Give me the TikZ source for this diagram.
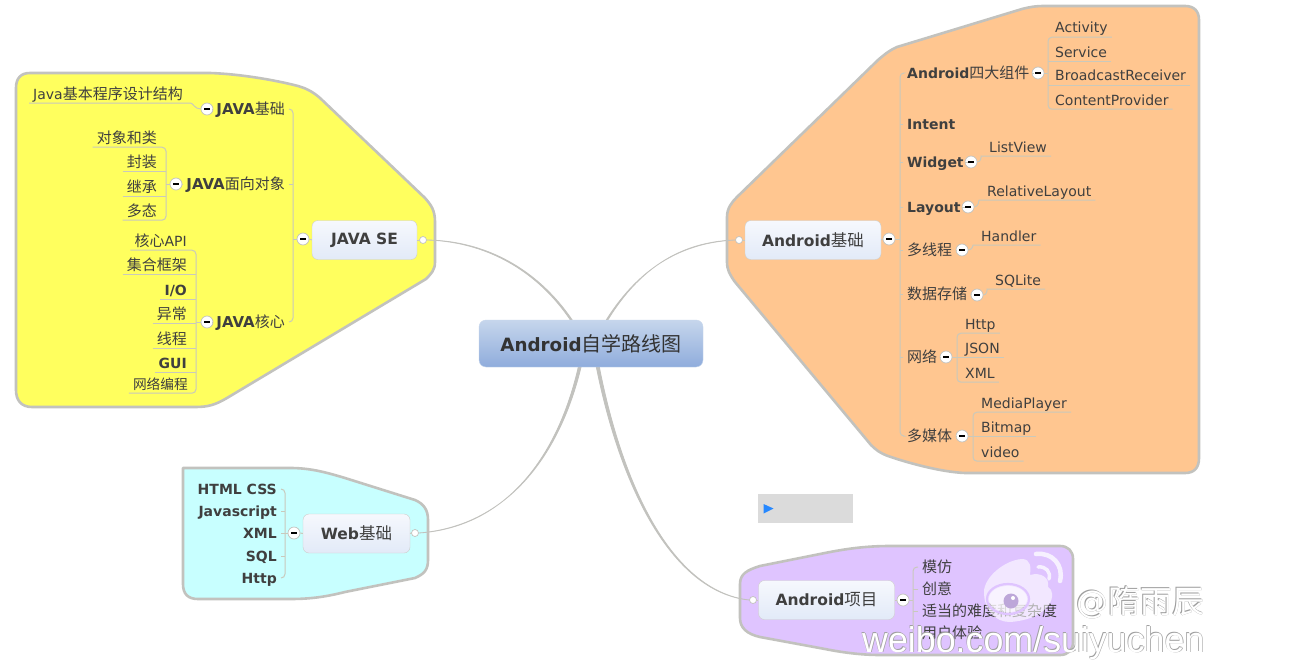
\documentclass[tikz,border=0pt]{standalone}
\usepackage{fontspec}
\usetikzlibrary{backgrounds,calc}
\setmainfont{DejaVu Sans}
\newfontfamily\cjk{Noto Sans CJK SC}
\newfontfamily\wmfont{Liberation Sans}
\newcommand{\zh}[1]{{\mdseries\cjk\fontsize{15}{17}\selectfont #1}}
\newcommand{\zhs}[1]{{\mdseries\cjk\fontsize{13.7}{16}\selectfont #1}}
\newcommand{\zhb}[1]{{\mdseries\cjk\fontsize{16.5}{19}\selectfont #1}}
\newcommand{\zhc}[1]{{\mdseries\cjk\fontsize{20}{22}\selectfont #1}}
\newcommand{\jv}{{\fontsize{15}{17}\selectfont JAVA}}
\definecolor{txt}{HTML}{3F3F3F}
\definecolor{rim}{HTML}{C2C2BE}
\definecolor{yel}{HTML}{FFFF5E}
\definecolor{ora}{HTML}{FFC690}
\definecolor{cya}{HTML}{C8FFFF}
\definecolor{pur}{HTML}{DFC4FF}
\definecolor{twig}{HTML}{C9C9BC}
\definecolor{BoxTop}{HTML}{C6D6EC}
\definecolor{BoxBot}{HTML}{8FACDC}
\definecolor{TopicTop}{HTML}{F6F8FD}
\definecolor{TopicBot}{HTML}{E2EAF8}
\tikzset{
  x=1pt,y=-1pt,
  blob/.style={draw=rim,line width=2.6pt,line join=round},
  branch/.style={fill=rim,draw=rim,line width=0.8pt},
  lab/.style={inner xsep=4pt,inner ysep=2pt,text height=12pt,text depth=2pt,text=txt,font=\fontsize{14}{16}\selectfont},
  blab/.style={lab,font=\fontsize{14}{16}\selectfont\bfseries},
  topic/.style={draw=rim!80!white,rounded corners=6pt,inner sep=0pt,minimum height=39pt,top color=TopicTop,bottom color=TopicBot,text=txt,font=\fontsize{15.5}{18}\selectfont\bfseries},
  central/.style={draw=BoxTop,rounded corners=7pt,inner sep=0pt,minimum width=224pt,minimum height=47pt,top color=BoxTop,bottom color=BoxBot,text=black!80,font=\fontsize{18.3}{20}\selectfont\bfseries},
  minus/.style={circle,draw=rim,fill=white,line width=0.7pt,inner sep=0pt,minimum size=12pt},
  openc/.style={circle,draw=rim,fill=white,line width=0.7pt,inner sep=0pt,minimum size=7pt},
  tw/.style={draw=twig,line width=1pt,rounded corners=4pt},
  wmw/.style={text=white,inner sep=0pt,anchor=base west},
  wms/.style={text=black!38,inner sep=0pt,anchor=base west},
}
\newcommand{\mn}{\rule{5.5pt}{1.4pt}}
\begin{document}
\begin{tikzpicture}
\useasboundingbox (0,0) rectangle (1300,661);

% ---------- central and its children
\node[central] (cen) at (591,343.5) {Android\zhc{自学路线图}};

% JAVA SE
\node[topic,minimum width=105pt] (java) at (364.5,240) {JAVA SE};
\node[openc] (oj) at (423,240) {};
\node[minus] (mj) at (303,239) {\mn};
\node[blab,anchor=east] (j1) at (289,109) {\jv\zh{基础}};
\node[blab,anchor=east] (j2) at (289,184) {\jv\zh{面向对象}};
\node[blab,anchor=east] (j3) at (289,322) {\jv\zh{核心}};
\coordinate (tj) at (293,200);
\node[minus] (m1) at (207,109) {\mn};
\node[minus] (m2) at (176,184) {\mn};
\node[minus] (m3) at (207,322) {\mn};
\node[lab,anchor=east] (a0) at (187,94) {Java\zh{基本程序设计结构}};
\coordinate (t2) at (166,184);
\node[lab,anchor=east] (b1) at (161,138) {\zh{对象和类}};
\node[lab,anchor=east] (b2) at (161,162) {\zh{封装}};
\node[lab,anchor=east] (b3) at (161,187) {\zh{继承}};
\node[lab,anchor=east] (b4) at (161,211) {\zh{多态}};
\coordinate (t3) at (196,322);
\node[lab,anchor=east] (c1) at (191,241) {\zh{核心}API};
\node[lab,anchor=east] (c2) at (191,265) {\zh{集合框架}};
\node[blab,anchor=east] (c3) at (191,290) {I/O};
\node[lab,anchor=east] (c4) at (191,314) {\zh{异常}};
\node[lab,anchor=east] (c5) at (191,339) {\zh{线程}};
\node[blab,anchor=east] (c6) at (191,363) {GUI};
\node[lab,anchor=east] (c7) at (192,384) {\zhs{网络编程}};

% Android basics
\node[topic,minimum width=136pt] (ab) at (813,240) {Android\zhb{基础}};
\node[openc] (oa) at (739,240) {};
\node[minus] (ma) at (889,239) {\mn};
\coordinate (ta) at (900,240);
\node[blab,anchor=west] (r1) at (903,73) {Android\zh{四大组件}};
\node[blab,anchor=west] (r2) at (903,124) {Intent};
\node[blab,anchor=west] (r3) at (903,162) {Widget};
\node[blab,anchor=west] (r4) at (903,207) {Layout};
\node[lab,anchor=west] (r5) at (903,250) {\zh{多线程}};
\node[lab,anchor=west] (r6) at (903,294) {\zh{数据存储}};
\node[lab,anchor=west] (r7) at (903,357) {\zh{网络}};
\node[lab,anchor=west] (r8) at (903,436) {\zh{多媒体}};
\node[minus] (n1) at (1038,73) {\mn};
\node[minus] (n3) at (971,162) {\mn};
\node[minus] (n4) at (968,207) {\mn};
\node[minus] (n5) at (962,250) {\mn};
\node[minus] (n6) at (977,295) {\mn};
\node[minus] (n7) at (946,357) {\mn};
\node[minus] (n8) at (962,436) {\mn};
\coordinate (t1r) at (1048,73);
\node[lab,anchor=west] (d1) at (1051,28) {Activity};
\node[lab,anchor=west] (d2) at (1051,52) {Service};
\node[lab,anchor=west] (d3) at (1051,76) {BroadcastReceiver};
\node[lab,anchor=west] (d4) at (1051,100) {ContentProvider};
\node[lab,anchor=west] (e3) at (985,147) {ListView};
\node[lab,anchor=west] (e4) at (983,191) {RelativeLayout};
\node[lab,anchor=west] (e5) at (977,236) {Handler};
\node[lab,anchor=west] (e6) at (991,280) {SQLite};
\coordinate (t7r) at (957,357);
\node[lab,anchor=west] (f1) at (961,324) {Http};
\node[lab,anchor=west] (f2) at (961,348) {JSON};
\node[lab,anchor=west] (f3) at (961,373) {XML};
\coordinate (t8r) at (973,436);
\node[lab,anchor=west] (g1) at (977,403) {MediaPlayer};
\node[lab,anchor=west] (g2) at (977,427) {Bitmap};
\node[lab,anchor=west] (g3) at (977,452) {video};

% Web
\node[topic,minimum width=107pt] (web) at (356.5,533.5) {Web\zhb{基础}};
\node[openc] (ow) at (415,533) {};
\node[minus] (mw) at (294,533) {\mn};
\coordinate (tw) at (285,533);
\node[blab,anchor=east] (w1) at (281,489) {HTML CSS};
\node[blab,anchor=east] (w2) at (281,511) {Javascript};
\node[blab,anchor=east] (w3) at (281,533) {XML};
\node[blab,anchor=east] (w4) at (281,556) {SQL};
\node[blab,anchor=east] (w5) at (281,578) {Http};

% Project
\node[topic,minimum width=136pt] (pr) at (826.5,600) {Android\zhb{项目}};
\node[openc] (op) at (753,600) {};
\node[minus] (mp) at (903,600) {\mn};
\coordinate (tp) at (913,600);
\node[lab,anchor=west] (p1) at (918,567) {\zh{模仿}};
\node[lab,anchor=west] (p2) at (918,589) {\zh{创意}};
\node[lab,anchor=west] (p3) at (918,611) {\zh{适当的难度和复杂度}};
\node[lab,anchor=west] (p4) at (918,633) {\zh{用户体验}};

% ---------- background: blobs and main branches
\begin{scope}[on background layer]
\fill[white] (0,0) rectangle (1300,661);
\draw[blob,fill=yel] (30,73) -- (210,73) .. controls (240,74) and (275,80) .. (298,86)
  .. controls (305,88) and (312,91) .. (320,98)
  -- (425,198) .. controls (431,205) and (435,210) .. (435,222)
  -- (435,262) .. controls (435,270) and (431,274) .. (426,279)
  -- (227,398) .. controls (215,405) and (208,407) .. (195,407)
  -- (32,407) .. controls (21,407) and (16,400) .. (16,390)
  -- (16,88) .. controls (16,78) and (21,73) .. (30,73) -- cycle;
\draw[blob,fill=ora] (1185,6) .. controls (1194,6) and (1199,11) .. (1199,20)
  -- (1199,458) .. controls (1199,468) and (1194,473) .. (1185,473)
  -- (965,473) .. controls (940,472) and (905,462) .. (888,456)
  .. controls (880,453) and (876,450) .. (871,445)
  -- (735,282) .. controls (730,275) and (727,270) .. (727,262)
  -- (727,217) .. controls (727,208) and (732,202) .. (737,197)
  -- (878,60) .. controls (885,54) and (890,50) .. (897,47)
  -- (1022,9) .. controls (1030,7) and (1035,6) .. (1045,6) -- cycle;
\draw[blob,fill=cya] (183,468) -- (290,468) .. controls (310,468) and (325,472) .. (345,478)
  -- (415,500) .. controls (424,504) and (428,510) .. (428,520)
  -- (428,560) .. controls (428,570) and (424,574) .. (415,578)
  -- (345,592) .. controls (325,597) and (310,599) .. (290,599)
  -- (198,599) .. controls (188,599) and (183,594) .. (183,584) -- cycle;
\draw[blob,fill=pur] (1060,546) .. controls (1068,546) and (1073,551) .. (1073,559)
  -- (1073,642) .. controls (1073,650) and (1068,655) .. (1060,655)
  -- (880,655) .. controls (860,655) and (840,652) .. (825,649)
  -- (760,637) .. controls (747,634) and (740,628) .. (740,618)
  -- (740,584) .. controls (740,574) and (747,570) .. (760,566)
  -- (825,553) .. controls (845,549) and (865,546) .. (890,546) -- cycle;
\fill[branch] (oj.east) .. controls (500,242) and (555,285) .. ([xshift=-7pt]cen.center)
  -- ([xshift=-5pt]cen.center) .. controls (556,284) and (500,241) .. (oj.east) -- cycle;
\fill[branch] (oa.west) .. controls (670,243) and (625,280) .. ([xshift=2pt]cen.center)
  -- ([xshift=4pt]cen.center) .. controls (626,280) and (670,242) .. (oa.west) -- cycle;
\fill[branch] (ow.east) .. controls (510,527) and (565,450) .. ([xshift=-8pt]cen.center)
  -- ([xshift=-5pt]cen.center) .. controls (567,450) and (510,526) .. (ow.east) -- cycle;
\fill[branch] (op.west) .. controls (670,592) and (615,480) .. ([xshift=1pt]cen.center)
  -- ([xshift=4pt]cen.center) .. controls (618,480) and (670,591) .. (op.west) -- cycle;
\end{scope}

% ---------- twigs
\draw[tw] (j1.east) -- (j1.east -| tj) -- (j3.east -| tj) -- (j3.east);
\draw[tw] (j2.east) -- (j2.east -| tj);
\draw[tw] (mj.west) -- (mj.west -| tj);
\draw[tw] (mj.east) -- (java.west);
\draw[tw] (oj.west) -- (java.east);
\draw[tw] (m1.east) -- (j1.west);
\draw[tw] (m2.east) -- (j2.west);
\draw[tw] (m3.east) -- (j3.west);
\draw[tw] (a0.south west) -- (a0.south east) to[out=0,in=180] (m1.west);
\draw[tw] (b1.south west) -- (b1.south east -| t2) -- (b4.south east -| t2) -- (b4.south west);
\foreach \k in {b2,b3} \draw[tw] (\k.south west) -- (\k.south east -| t2);
\draw[tw] (m2.west) -- (m2.west -| t2);
\draw[tw] (c1.south west) -- (c1.south east -| t3) -- (c7.south east -| t3) -- (c7.south west);
\foreach \k in {c2,c3,c4,c5,c6} \draw[tw] (\k.south west) -- (\k.south east -| t3);
\draw[tw] (m3.west) -- (m3.west -| t3);

\draw[tw] (ma.west) -- (ab.east);
\draw[tw] (oa.east) -- (ab.west);
\draw[tw] (ma.east) -- (ma.east -| ta);
\draw[tw] (r1.west) -- (r1.west -| ta) -- (r8.west -| ta) -- (r8.west);
\foreach \k in {r2,r3,r4,r5,r6,r7} \draw[tw] (\k.west) -- (\k.west -| ta);
\foreach \a/\b in {r1/n1,r3/n3,r4/n4,r5/n5,r6/n6,r7/n7,r8/n8} \draw[tw] (\a.east) -- (\b.west);
\draw[tw] (d1.south east) -- (d1.south east -| t1r) -- (d4.south east -| t1r) -- (d4.south east);
\foreach \k in {d2,d3} \draw[tw] (\k.south east) -- (\k.south east -| t1r);
\draw[tw] (n1.east) -- (n1.east -| t1r);
\foreach \a/\b in {e3/n3,e4/n4,e5/n5,e6/n6} \draw[tw] (\a.south east) -- (\a.south west) to[out=180,in=0] (\b.east);
\draw[tw] (f1.south east) -- (f1.south east -| t7r) -- (f3.south east -| t7r) -- (f3.south east);
\draw[tw] (f2.south east) -- (f2.south east -| t7r);
\draw[tw] (n7.east) -- (n7.east -| t7r);
\draw[tw] (g1.south east) -- (g1.south east -| t8r) -- (g3.south east -| t8r) -- (g3.south east);
\draw[tw] (g2.south east) -- (g2.south east -| t8r);
\draw[tw] (n8.east) -- (n8.east -| t8r);

\draw[tw] (mw.east) -- (web.west);
\draw[tw] (ow.west) -- (web.east);
\draw[tw] (mw.west) -- (mw.west -| tw);
\draw[tw] (w1.east) -- (w1.east -| tw) -- (w5.east -| tw) -- (w5.east);
\foreach \k in {w2,w3,w4} \draw[tw] (\k.east) -- (\k.east -| tw);

\draw[tw] (mp.west) -- (pr.east);
\draw[tw] (op.east) -- (pr.west);
\draw[tw] (mp.east) -- (mp.east -| tp);
\draw[tw] (p1.west) -- (p1.west -| tp) -- (p4.west -| tp);
\foreach \k in {p2,p3} \draw[tw] (\k.west) -- (\k.west -| tp);

% ---------- grey player box
\fill[black!14] (757.5,494) rectangle (853,523);
\fill[blue!55!cyan!85!white] (763.5,504) -- (773.5,508.5) -- (763.5,513.5) -- cycle;

% ---------- watermark
\fill[white,opacity=.6] (984,592) .. controls (984,577) and (1005,560) .. (1022,559)
  .. controls (1031,559) and (1031,568) .. (1030,575) .. controls (1040,572) and (1050,577) .. (1048,587)
  .. controls (1058,592) and (1052,619) .. (1010,622) .. controls (995,622) and (984,610) .. (984,592) -- cycle;
\draw[pur,line width=2.2pt] (1008,599) ellipse [x radius=21,y radius=15];
\fill[white,opacity=.5] (1008,599) ellipse [x radius=19,y radius=13];
\fill[pur!85!black] (1011,601) circle [radius=7.5];
\fill[white] (1013,598) circle [radius=2];
\draw[white,opacity=.75,line width=4.5pt,line cap=round] (1036,554) .. controls (1052,552) and (1064,565) .. (1060,581);
\draw[white,opacity=.75,line width=3.5pt,line cap=round] (1038,567) .. controls (1046,566) and (1051,572) .. (1049,579);
\node[wms,font=\fontsize{32}{36}\selectfont] (wa2) at (1076.7,613.7) {@{\cjk\fontsize{32}{36}\selectfont 隋雨辰}};
\node[wms,font=\fontsize{32}{36}\selectfont] (wa3) at (1075.4,612.4) {@{\cjk\fontsize{32}{36}\selectfont 隋雨辰}};
\node[wmw,font=\fontsize{32}{36}\selectfont] (wa) at (1076,613) {@{\cjk\fontsize{32}{36}\selectfont 隋雨辰}};
\node[wms,font=\wmfont\fontsize{35.8}{40}\selectfont] (wb2) at (862.7,652.7) {weibo.com/suiyuchen};
\node[wms,font=\wmfont\fontsize{35.8}{40}\selectfont] (wb3) at (861.4,651.4) {weibo.com/suiyuchen};
\node[wmw,font=\wmfont\fontsize{35.8}{40}\selectfont] (wb) at (862,652) {weibo.com/suiyuchen};
\end{tikzpicture}
\end{document}
